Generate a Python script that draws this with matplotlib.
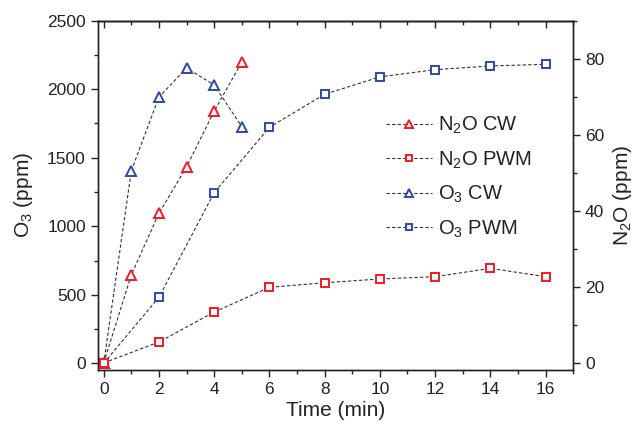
import matplotlib
matplotlib.use("Agg")
import matplotlib.pyplot as plt
from matplotlib.ticker import MultipleLocator

plt.rcParams['font.family'] = ['Liberation Sans', 'DejaVu Sans']
plt.rcParams['mathtext.default'] = 'regular'

# data
t_cw = [0, 1, 2, 3, 4, 5]
t_pwm = [0, 2, 4, 6, 8, 10, 12, 14, 16]
n2o_cw = [0, 23.2, 39.4, 51.6, 66.3, 79.2]
n2o_pwm = [0, 5.5, 13.4, 19.9, 21.1, 22.1, 22.7, 24.9, 22.7]
o3_cw = [0, 1405, 1942, 2155, 2031, 1727]
o3_pwm = [0, 482, 1245, 1722, 1963, 2090, 2143, 2170, 2182]

red = '#ee1c25'
blue = '#2e4aa0'
txt = '#222222'

fig = plt.figure(figsize=(6.34, 4.23), dpi=100)
ax = fig.add_axes([0.154, 0.125, 0.750, 0.826])
ax2 = ax.twinx()

line_kw = dict(color='#333333', lw=0.8, ls=(0, (3, 2)), mew=1.4, mfc='white')
h1, = ax2.plot(t_cw, n2o_cw, marker='^', ms=7, mec=red, label=r'$N_2O$ CW', **line_kw)
h2, = ax2.plot(t_pwm, n2o_pwm, marker='s', ms=5.5, mec=red, label=r'$N_2O$ PWM', **line_kw)
h3, = ax.plot(t_cw, o3_cw, marker='^', ms=7, mec=blue, label=r'$O_3$ CW', **line_kw)
h4, = ax.plot(t_pwm, o3_pwm, marker='s', ms=5.5, mec=blue, label=r'$O_3$ PWM', **line_kw)

ax.set_xlim(-0.22, 17)
ax.set_ylim(-50, 2500)
ax2.set_ylim(-1.9, 90.1)

ax.xaxis.set_major_locator(MultipleLocator(2))
ax.xaxis.set_minor_locator(MultipleLocator(1))
ax.yaxis.set_major_locator(MultipleLocator(500))
ax.yaxis.set_minor_locator(MultipleLocator(250))
ax2.yaxis.set_major_locator(MultipleLocator(20))
ax2.yaxis.set_minor_locator(MultipleLocator(10))

for a in (ax, ax2):
    a.tick_params(which='both', direction='out', labelsize=12.5, colors=txt, width=1.0)
    a.tick_params(which='major', length=5)
    a.tick_params(which='minor', length=3)
    for s in a.spines.values():
        s.set_linewidth(1.0)
        s.set_color(txt)

top = ax.secondary_xaxis('top')
top.xaxis.set_major_locator(MultipleLocator(2))
top.xaxis.set_minor_locator(MultipleLocator(1))
top.tick_params(which='both', direction='in', labeltop=False, colors=txt, width=1.0)
top.tick_params(which='major', length=5)
top.tick_params(which='minor', length=3)
top.spines['top'].set_linewidth(1.0)

ax.set_xlabel('Time (min)', fontsize=15, color=txt, labelpad=3)
ax.set_ylabel(r'$O_3$ (ppm)', fontsize=15, color=txt, labelpad=9)
ax2.set_ylabel(r'$N_2O$ (ppm)', fontsize=15, color=txt, labelpad=5)

fig.legend(handles=[h1, h2, h3, h4], loc='upper left', bbox_to_anchor=(376 / 634, 1 - 105 / 423),
           frameon=False, fontsize=14.5, borderpad=0, handlelength=2.3, handletextpad=0.3,
           labelspacing=0.65, labelcolor=txt, markerscale=0.8)

fig.savefig('out.png', dpi=100)
